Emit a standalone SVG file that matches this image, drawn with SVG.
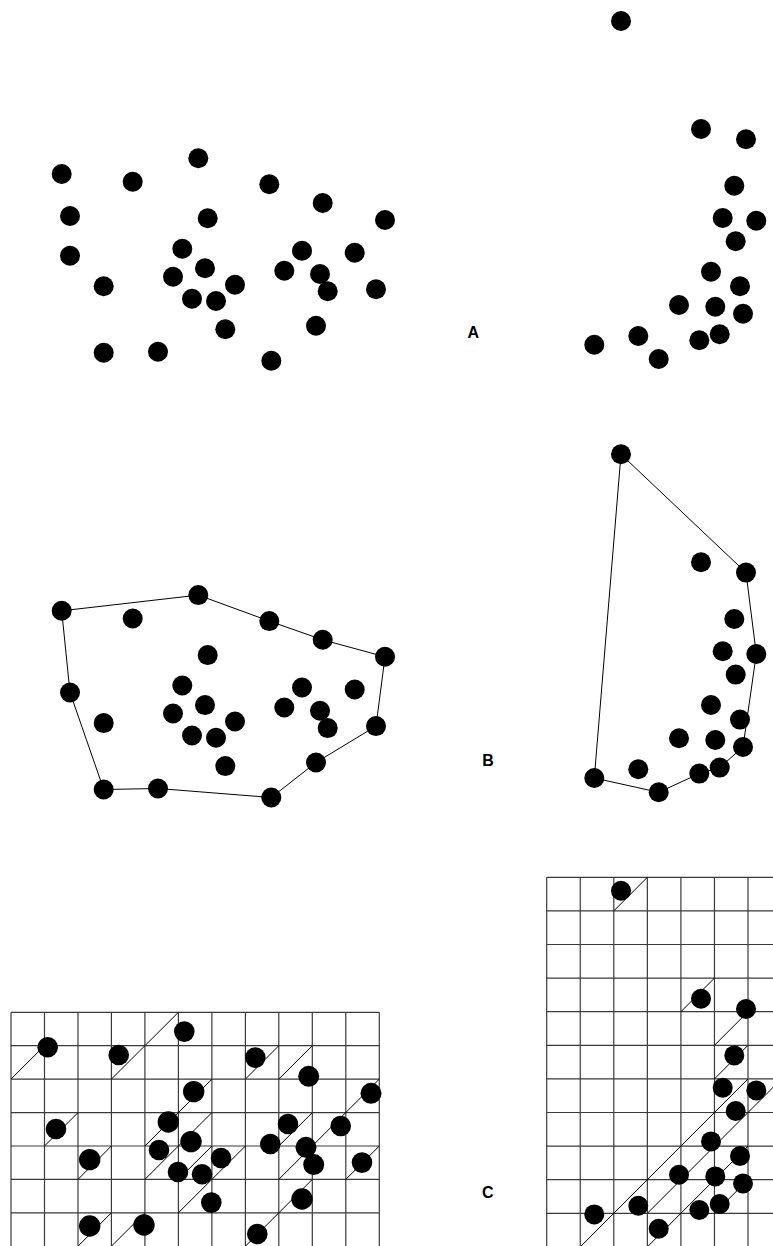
<svg xmlns="http://www.w3.org/2000/svg" width="773" height="1246" viewBox="0 0 773 1246">
<style>
.d{fill:#000}
.hull{fill:none;stroke:#000;stroke-width:1}
.grid{stroke:#3a3a3a;stroke-width:1.2;fill:none}
.diag{stroke:#000;stroke-width:1;fill:none}
.lbl{font-family:"Liberation Sans",Arial,sans-serif;font-weight:bold;font-size:16px;fill:#000;text-anchor:middle}
</style>
<rect width="773" height="1246" fill="#fff"/>
<g id="connectors">
<polygon class="hull" points="61.7,610.8 198.3,595.1 269.3,621.1 322.7,639.8 385,656.8 376,726.1 316,762.5 271.3,797.5 158,788.5 103.7,789.5 70,692.5"/>
<polygon class="hull" points="621,454.3 746,572.6 756.3,654 743,747 719.7,767.6 699.3,773.6 658.7,792.3 594.3,778"/>
<g id="gridC1" class="grid">
<path d="M11,1012.3V1246M44.5,1012.3V1246M78,1012.3V1246M111.4,1012.3V1246M144.9,1012.3V1246M178.4,1012.3V1246M211.9,1012.3V1246M245.4,1012.3V1246M278.8,1012.3V1246M312.3,1012.3V1246M345.8,1012.3V1246M379.3,1012.3V1246"/>
<path d="M11,1012.3H379.3M11,1045.7H379.3M11,1079.1H379.3M11,1112.6H379.3M11,1146H379.3M11,1179.4H379.3M11,1212.8H379.3"/>
</g>
<g id="diagC1" class="diag">
<path d="M11,1079.1L44.5,1045.7M111.4,1079.1L178.4,1012.3M44.5,1146L78,1112.6M78,1179.4L111.4,1146M78,1246.2L111.4,1212.8M111.4,1246.2L144.9,1212.8M144.9,1146L211.9,1079.1M144.9,1179.4L211.9,1112.6M178.4,1179.4L211.9,1146M178.4,1212.8L245.4,1146M245.4,1079.1L278.8,1045.7M278.8,1079.1L312.3,1045.7M278.8,1146L312.3,1112.6M278.8,1179.4L379.3,1079.1M245.4,1246.2L312.3,1179.4M345.8,1179.4L379.3,1146"/>
</g>
<g id="gridC2" class="grid">
<path d="M546.7,877.3V1246M580.25,877.3V1246M613.8,877.3V1246M647.35,877.3V1246M680.9,877.3V1246M714.45,877.3V1246M748,877.3V1246"/>
<path d="M546.7,877.3H773M546.7,910.9H773M546.7,944.5H773M546.7,978.1H773M546.7,1011.7H773M546.7,1045.3H773M546.7,1078.9H773M546.7,1112.5H773M546.7,1146.1H773M546.7,1179.7H773M546.7,1213.3H773"/>
</g>
<g id="diagC2" class="diag">
<path d="M613.8,910.9L647.35,877.3M680.9,1011.7L714.45,978.1M714.45,1045.3L748,1011.7M714.45,1078.9L748,1045.3M580.25,1246.9L748,1078.9M647.35,1213.3L781.55,1078.9M647.35,1246.9L748,1146.1M714.45,1213.3L748,1179.7"/>
</g>
</g>
<g id="A-left" class="d">
<g id="a1"><circle cx="61.7" cy="174" r="10"/></g>
<g id="a2"><circle cx="132.7" cy="181.7" r="10"/></g>
<g id="a3"><circle cx="198.3" cy="158.3" r="10"/></g>
<g id="a4"><circle cx="269.3" cy="184.3" r="10"/></g>
<g id="a5"><circle cx="322.7" cy="203" r="10"/></g>
<g id="a6"><circle cx="385" cy="220" r="10"/></g>
<g id="a7"><circle cx="70" cy="216" r="10"/></g>
<g id="a8"><circle cx="207.7" cy="218.3" r="10"/></g>
<g id="a9"><circle cx="70" cy="255.7" r="10"/></g>
<g id="a10"><circle cx="182.3" cy="248.7" r="10"/></g>
<g id="a11"><circle cx="302" cy="250.7" r="10"/></g>
<g id="a12"><circle cx="354.7" cy="252.7" r="10"/></g>
<g id="a13"><circle cx="205" cy="268.3" r="10"/></g>
<g id="a14"><circle cx="173" cy="276.7" r="10"/></g>
<g id="a15"><circle cx="284.3" cy="270.7" r="10"/></g>
<g id="a16"><circle cx="320" cy="274" r="10"/></g>
<g id="a17"><circle cx="235" cy="284.7" r="10"/></g>
<g id="a18"><circle cx="327.7" cy="291.3" r="10"/></g>
<g id="a19"><circle cx="376" cy="289.3" r="10"/></g>
<g id="a20"><circle cx="103.7" cy="286.3" r="10"/></g>
<g id="a21"><circle cx="192" cy="298.7" r="10"/></g>
<g id="a22"><circle cx="216" cy="301" r="10"/></g>
<g id="a23"><circle cx="225.3" cy="329.3" r="10"/></g>
<g id="a24"><circle cx="316" cy="325.7" r="10"/></g>
<g id="a25"><circle cx="103.7" cy="352.7" r="10"/></g>
<g id="a26"><circle cx="158" cy="351.7" r="10"/></g>
<g id="a27"><circle cx="271.3" cy="360.7" r="10"/></g>
</g>
<g id="A-right" class="d">
<g id="ar1"><circle cx="621" cy="21" r="10"/></g>
<g id="ar2"><circle cx="701" cy="129" r="10"/></g>
<g id="ar3"><circle cx="746" cy="139.3" r="10"/></g>
<g id="ar4"><circle cx="734.3" cy="185.7" r="10"/></g>
<g id="ar5"><circle cx="722.7" cy="218" r="10"/></g>
<g id="ar6"><circle cx="756.3" cy="220.7" r="10"/></g>
<g id="ar7"><circle cx="735.7" cy="241.3" r="10"/></g>
<g id="ar8"><circle cx="711" cy="271.7" r="10"/></g>
<g id="ar9"><circle cx="740" cy="286.3" r="10"/></g>
<g id="ar10"><circle cx="679" cy="305" r="10"/></g>
<g id="ar11"><circle cx="715.3" cy="306.7" r="10"/></g>
<g id="ar12"><circle cx="743" cy="313.7" r="10"/></g>
<g id="ar13"><circle cx="638.3" cy="336" r="10"/></g>
<g id="ar14"><circle cx="719.7" cy="334.3" r="10"/></g>
<g id="ar15"><circle cx="699.3" cy="340.3" r="10"/></g>
<g id="ar16"><circle cx="594.3" cy="344.7" r="10"/></g>
<g id="ar17"><circle cx="658.7" cy="359" r="10"/></g>
</g>
<g id="B-left" class="d">
<g id="b1"><circle cx="61.7" cy="610.8" r="10"/></g>
<g id="b2"><circle cx="132.7" cy="618.5" r="10"/></g>
<g id="b3"><circle cx="198.3" cy="595.1" r="10"/></g>
<g id="b4"><circle cx="269.3" cy="621.1" r="10"/></g>
<g id="b5"><circle cx="322.7" cy="639.8" r="10"/></g>
<g id="b6"><circle cx="385" cy="656.8" r="10"/></g>
<g id="b8"><circle cx="207.7" cy="655.1" r="10"/></g>
<g id="b9"><circle cx="70" cy="692.5" r="10"/></g>
<g id="b10"><circle cx="182.3" cy="685.5" r="10"/></g>
<g id="b11"><circle cx="302" cy="687.5" r="10"/></g>
<g id="b12"><circle cx="354.7" cy="689.5" r="10"/></g>
<g id="b13"><circle cx="205" cy="705.1" r="10"/></g>
<g id="b14"><circle cx="173" cy="713.5" r="10"/></g>
<g id="b15"><circle cx="284.3" cy="707.5" r="10"/></g>
<g id="b16"><circle cx="320" cy="710.8" r="10"/></g>
<g id="b17"><circle cx="235" cy="721.5" r="10"/></g>
<g id="b18"><circle cx="327.7" cy="728.1" r="10"/></g>
<g id="b19"><circle cx="376" cy="726.1" r="10"/></g>
<g id="b20"><circle cx="103.7" cy="723.1" r="10"/></g>
<g id="b21"><circle cx="192" cy="735.5" r="10"/></g>
<g id="b22"><circle cx="216" cy="737.8" r="10"/></g>
<g id="b23"><circle cx="225.3" cy="766.1" r="10"/></g>
<g id="b24"><circle cx="316" cy="762.5" r="10"/></g>
<g id="b25"><circle cx="103.7" cy="789.5" r="10"/></g>
<g id="b26"><circle cx="158" cy="788.5" r="10"/></g>
<g id="b27"><circle cx="271.3" cy="797.5" r="10"/></g>
</g>
<g id="B-right" class="d">
<g id="br1"><circle cx="621" cy="454.3" r="10"/></g>
<g id="br2"><circle cx="701" cy="562.3" r="10"/></g>
<g id="br3"><circle cx="746" cy="572.6" r="10"/></g>
<g id="br4"><circle cx="734.3" cy="619" r="10"/></g>
<g id="br5"><circle cx="722.7" cy="651.3" r="10"/></g>
<g id="br6"><circle cx="756.3" cy="654" r="10"/></g>
<g id="br7"><circle cx="735.7" cy="674.6" r="10"/></g>
<g id="br8"><circle cx="711" cy="705" r="10"/></g>
<g id="br9"><circle cx="740" cy="719.6" r="10"/></g>
<g id="br10"><circle cx="679" cy="738.3" r="10"/></g>
<g id="br11"><circle cx="715.3" cy="740" r="10"/></g>
<g id="br12"><circle cx="743" cy="747" r="10"/></g>
<g id="br13"><circle cx="638.3" cy="769.3" r="10"/></g>
<g id="br14"><circle cx="719.7" cy="767.6" r="10"/></g>
<g id="br15"><circle cx="699.3" cy="773.6" r="10"/></g>
<g id="br16"><circle cx="594.3" cy="778" r="10"/></g>
<g id="br17"><circle cx="658.7" cy="792.3" r="10"/></g>
</g>
<g id="C-left" class="d">
<g id="c1"><circle cx="47.7" cy="1047.3" r="10.3"/></g>
<g id="c2"><circle cx="118.7" cy="1055" r="10.3"/></g>
<g id="c3"><circle cx="184.3" cy="1031.6" r="10.3"/></g>
<g id="c4"><circle cx="255.3" cy="1057.6" r="10.3"/></g>
<g id="c5"><circle cx="308.7" cy="1076.3" r="10.5"/></g>
<g id="c6"><circle cx="371" cy="1093.3" r="10.5"/></g>
<g id="c8"><circle cx="193.7" cy="1091.6" r="10.7"/></g>
<g id="c9"><circle cx="56" cy="1129" r="10.3"/></g>
<g id="c10"><circle cx="168.3" cy="1122" r="10.7"/></g>
<g id="c11"><circle cx="288" cy="1124" r="10.3"/></g>
<g id="c12"><circle cx="340.7" cy="1126" r="10.3"/></g>
<g id="c13"><circle cx="191" cy="1141.6" r="10.7"/></g>
<g id="c14"><circle cx="159" cy="1150" r="10.3"/></g>
<g id="c15"><circle cx="270.3" cy="1144" r="10.3"/></g>
<g id="c16"><circle cx="306" cy="1147.3" r="10.5"/></g>
<g id="c17"><circle cx="221" cy="1158" r="10.3"/></g>
<g id="c18"><circle cx="313.7" cy="1164.6" r="10.5"/></g>
<g id="c19"><circle cx="362" cy="1162.6" r="10.3"/></g>
<g id="c20"><circle cx="89.7" cy="1159.6" r="10.7"/></g>
<g id="c21"><circle cx="178" cy="1172" r="10.3"/></g>
<g id="c22"><circle cx="202" cy="1174.3" r="10.3"/></g>
<g id="c23"><circle cx="211.3" cy="1202.6" r="10.3"/></g>
<g id="c24"><circle cx="302" cy="1199" r="10.7"/></g>
<g id="c25"><circle cx="89.7" cy="1226" r="10.7"/></g>
<g id="c26"><circle cx="144" cy="1225" r="10.7"/></g>
<g id="c27"><circle cx="257.3" cy="1234" r="10.3"/></g>
</g>
<g id="C-right" class="d">
<g id="cr1"><circle cx="621" cy="890.7" r="10"/></g>
<g id="cr2"><circle cx="701" cy="998.7" r="10"/></g>
<g id="cr3"><circle cx="746" cy="1009" r="10"/></g>
<g id="cr4"><circle cx="734.3" cy="1055.4" r="10"/></g>
<g id="cr5"><circle cx="722.7" cy="1087.7" r="10"/></g>
<g id="cr6"><circle cx="756.3" cy="1090.4" r="10"/></g>
<g id="cr7"><circle cx="735.7" cy="1111" r="10"/></g>
<g id="cr8"><circle cx="711" cy="1141.4" r="10"/></g>
<g id="cr9"><circle cx="740" cy="1156" r="10"/></g>
<g id="cr10"><circle cx="679" cy="1174.7" r="10"/></g>
<g id="cr11"><circle cx="715.3" cy="1176.4" r="10"/></g>
<g id="cr12"><circle cx="743" cy="1183.4" r="10"/></g>
<g id="cr13"><circle cx="638.3" cy="1205.7" r="10"/></g>
<g id="cr14"><circle cx="719.7" cy="1204" r="10"/></g>
<g id="cr15"><circle cx="699.3" cy="1210" r="10"/></g>
<g id="cr16"><circle cx="594.3" cy="1214.4" r="10"/></g>
<g id="cr17"><circle cx="658.7" cy="1228.7" r="10"/></g>
</g>
<g id="labels">
<g id="labelA"><text class="lbl" x="473.4" y="337.7">A</text></g>
<g id="labelB"><text class="lbl" x="488" y="766">B</text></g>
<g id="labelC"><text class="lbl" x="487.8" y="1197.7">C</text></g>
</g>
</svg>
